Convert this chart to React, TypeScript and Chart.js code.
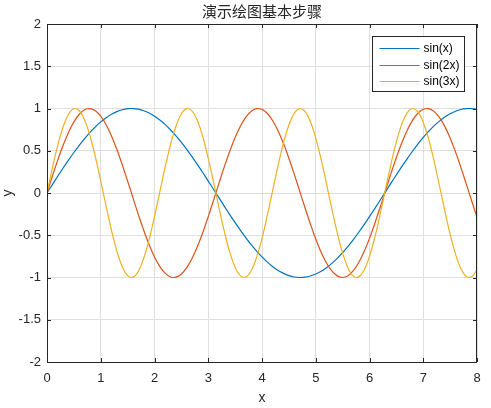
import React, { useEffect, useRef } from "react";
import { Chart, registerables } from "chart.js";

Chart.register(...registerables);

const titleText = "演示绘图基本步骤";
const xAxisTitle = "x";
const yAxisTitle = "y";

const xValues = [
  0, 0.1, 0.2, 0.3, 0.4, 0.5, 0.6, 0.7, 0.8, 0.9,
  1.0, 1.1, 1.2, 1.3, 1.4, 1.5, 1.6, 1.7, 1.8, 1.9,
  2.0, 2.1, 2.2, 2.3, 2.4, 2.5, 2.6, 2.7, 2.8, 2.9,
  3.0, 3.1, 3.2, 3.3, 3.4, 3.5, 3.6, 3.7, 3.8, 3.9,
  4.0, 4.1, 4.2, 4.3, 4.4, 4.5, 4.6, 4.7, 4.8, 4.9,
  5.0, 5.1, 5.2, 5.3, 5.4, 5.5, 5.6, 5.7, 5.8, 5.9,
  6.0, 6.1, 6.2, 6.3, 6.4, 6.5, 6.6, 6.7, 6.8, 6.9,
  7.0, 7.1, 7.2, 7.3, 7.4, 7.5, 7.6, 7.7, 7.8, 7.9,
  8.0,
];

const sinX = [
  0, 0.0998, 0.1987, 0.2955, 0.3894, 0.4794, 0.5646, 0.6442, 0.7174, 0.7833,
  0.8415, 0.8912, 0.932, 0.9636, 0.9854, 0.9975, 0.9996, 0.9917, 0.9738, 0.9463,
  0.9093, 0.8632, 0.8085, 0.7457, 0.6755, 0.5985, 0.5155, 0.4274, 0.335, 0.2392,
  0.1411, 0.0416, -0.0584, -0.1577, -0.2555, -0.3508, -0.4425, -0.5298, -0.6119, -0.6878,
  -0.7568, -0.8183, -0.8716, -0.9162, -0.9516, -0.9775, -0.9937, -0.9999, -0.9962, -0.9825,
  -0.9589, -0.9258, -0.8835, -0.8323, -0.7728, -0.7055, -0.6313, -0.5507, -0.4646, -0.3739,
  -0.2794, -0.1822, -0.0831, 0.0168, 0.1165, 0.2151, 0.3115, 0.4048, 0.4941, 0.5784,
  0.657, 0.729, 0.7937, 0.8504, 0.8987, 0.938, 0.9679, 0.9882, 0.9985, 0.9989,
  0.9894,
];

const sin2X = [
  0, 0.1987, 0.3894, 0.5646, 0.7174, 0.8415, 0.932, 0.9854, 0.9996, 0.9738,
  0.9093, 0.8085, 0.6755, 0.5155, 0.335, 0.1411, -0.0584, -0.2555, -0.4425, -0.6119,
  -0.7568, -0.8716, -0.9516, -0.9937, -0.9962, -0.9589, -0.8835, -0.7728, -0.6313, -0.4646,
  -0.2794, -0.0831, 0.1165, 0.3115, 0.4941, 0.657, 0.7937, 0.8987, 0.9679, 0.9985,
  0.9894, 0.9407, 0.8546, 0.7344, 0.5849, 0.4121, 0.2229, 0.0248, -0.1743, -0.3665,
  -0.544, -0.7, -0.8278, -0.9228, -0.9809, -1.0, -0.9792, -0.9193, -0.8228, -0.6935,
  -0.5366, -0.3582, -0.1656, 0.0336, 0.2315, 0.4202, 0.5921, 0.7404, 0.8592, 0.9437,
  0.9906, 0.998, 0.9657, 0.8948, 0.7883, 0.6503, 0.4864, 0.3031, 0.1078, -0.0919,
  -0.2879,
];

const sin3X = [
  0, 0.2955, 0.5646, 0.7833, 0.932, 0.9975, 0.9738, 0.8632, 0.6755, 0.4274,
  0.1411, -0.1577, -0.4425, -0.6878, -0.8716, -0.9775, -0.9962, -0.9258, -0.7728, -0.5507,
  -0.2794, 0.0168, 0.3115, 0.5784, 0.7937, 0.938, 0.9985, 0.9699, 0.8546, 0.663,
  0.4121, 0.1245, -0.1743, -0.4575, -0.7, -0.8797, -0.9809, -0.9946, -0.9193, -0.762,
  -0.5366, -0.2632, 0.0336, 0.3275, 0.5921, 0.8038, 0.9437, 0.9993, 0.9657, 0.8457,
  0.6503, 0.3967, 0.1078, -0.1909, -0.4724, -0.7118, -0.8876, -0.9841, -0.9927, -0.9126,
  -0.751, -0.5223, -0.247, 0.0504, 0.3433, 0.6055, 0.8137, 0.9491, 0.9998, 0.9612,
  0.8367, 0.6374, 0.3813, 0.091, -0.2073, -0.4872, -0.7235, -0.8952, -0.9869, -0.9905,
  -0.9056,
];

const seriesLabels = ["sin(x)", "sin(2x)", "sin(3x)"];
const seriesColors = ["#0072BD", "#D95319", "#EDB120"];
const seriesValues = [sinX, sin2X, sin3X];

const xTicks = [0, 1, 2, 3, 4, 5, 6, 7, 8];
const yTicks = [-2, -1.5, -1, -0.5, 0, 0.5, 1, 1.5, 2];
const xTickLabels = ["0", "1", "2", "3", "4", "5", "6", "7", "8"];
const yTickLabels = ["-2", "-1.5", "-1", "-0.5", "0", "0.5", "1", "1.5", "2"];

const AXIS_COLOR = "#262626";
const GRID_COLOR = "#dfdfdf";
const FONT = "'Liberation Sans', Arial, sans-serif";

export default function App() {
  const ref = useRef<HTMLCanvasElement>(null);

  useEffect(() => {
    document.body.style.margin = "0";
    const canvas = ref.current;
    if (!canvas) return;

    const decor = {
      id: "matlabDecor",
      afterDatasetsDraw(chart: any) {
        const { ctx, chartArea: a, scales } = chart;
        ctx.save();
        ctx.strokeStyle = AXIS_COLOR;
        ctx.lineWidth = 1;
        ctx.beginPath();
        for (const v of xTicks) {
          const px = Math.round(scales.x.getPixelForValue(v)) + 0.5;
          ctx.moveTo(px, a.bottom);
          ctx.lineTo(px, a.bottom - 4);
          ctx.moveTo(px, a.top);
          ctx.lineTo(px, a.top + 4);
        }
        for (const v of yTicks) {
          const py = Math.round(scales.y.getPixelForValue(v)) + 0.5;
          ctx.moveTo(a.left, py);
          ctx.lineTo(a.left + 4, py);
          ctx.moveTo(a.right, py);
          ctx.lineTo(a.right - 4, py);
        }
        ctx.stroke();
        ctx.strokeRect(
          Math.round(a.left) + 0.5,
          Math.round(a.top) + 0.5,
          Math.round(a.right) - Math.round(a.left) - 1,
          Math.round(a.bottom) - Math.round(a.top)
        );

        // title, centred over the plot area
        ctx.fillStyle = AXIS_COLOR;
        ctx.font = "normal 15px 'Noto Sans CJK SC', sans-serif";
        ctx.textAlign = "center";
        ctx.textBaseline = "middle";
        ctx.fillText(titleText, (a.left + a.right) / 2, 11);

        // legend
        const lw = 92;
        const lh = 55;
        const lx = Math.round(a.right - 13 - lw) + 0.5;
        const ly = Math.round(a.top + 12) + 0.5;
        ctx.fillStyle = "#ffffff";
        ctx.fillRect(lx, ly, lw, lh);
        ctx.strokeStyle = AXIS_COLOR;
        ctx.lineWidth = 1;
        ctx.strokeRect(lx, ly, lw, lh);
        ctx.font = "normal 12px 'Liberation Sans', Arial, sans-serif";
        ctx.textAlign = "left";
        ctx.textBaseline = "middle";
        seriesLabels.forEach((label, i) => {
          const ry = Math.round(ly + 11.5 + i * 16.5) + 0.5;
          ctx.strokeStyle = seriesColors[i];
          ctx.lineWidth = 1.2;
          ctx.beginPath();
          ctx.moveTo(lx + 7, ry);
          ctx.lineTo(lx + 47, ry);
          ctx.stroke();
          ctx.fillStyle = "#000000";
          ctx.fillText(label, lx + 51, ry + 0.5);
        });
        ctx.restore();
      },
    };

    const chart = new Chart(canvas, {
      type: "line",
      data: {
        datasets: seriesLabels.map((label, i) => ({
          label,
          data: xValues.map((x, j) => ({ x, y: seriesValues[i][j] })),
          borderColor: seriesColors[i],
          backgroundColor: seriesColors[i],
          borderWidth: 1.2,
          pointRadius: 0,
          tension: 0.4,
          fill: false,
          order: 3 - i,
        })),
      },
      options: {
        responsive: false,
        animation: false,
        layout: { padding: { left: 0, right: 14, top: 24, bottom: 0 } },
        plugins: {
          legend: { display: false },
          title: { display: false },
          tooltip: { enabled: false },
        },
        scales: {
          x: {
            type: "linear",
            min: 0,
            max: 8,
            afterBuildTicks: (s: any) => {
              s.ticks = xTicks.map((v) => ({ value: v }));
            },
            afterFit: (s: any) => {
              s.height = 46;
            },
            ticks: {
              autoSkip: false,
              maxRotation: 0,
              padding: 9,
              color: AXIS_COLOR,
              font: { family: FONT, size: 13 },
              callback: (v: any) => xTickLabels[xTicks.indexOf(Number(v))] ?? String(v),
            },
            grid: { color: GRID_COLOR, drawTicks: false, lineWidth: 1 },
            border: { display: false },
            title: {
              display: true,
              text: xAxisTitle,
              color: AXIS_COLOR,
              font: { family: FONT, size: 14 },
              padding: { top: 0, bottom: 1 },
            },
          },
          y: {
            type: "linear",
            min: -2,
            max: 2,
            afterBuildTicks: (s: any) => {
              s.ticks = yTicks.map((v) => ({ value: v }));
            },
            afterFit: (s: any) => {
              s.width = 47;
            },
            ticks: {
              autoSkip: false,
              padding: 6,
              color: AXIS_COLOR,
              font: { family: FONT, size: 13 },
              callback: (v: any) => yTickLabels[yTicks.indexOf(Number(v))] ?? String(v),
            },
            grid: { color: GRID_COLOR, drawTicks: false, lineWidth: 1 },
            border: { display: false },
            title: {
              display: true,
              text: yAxisTitle,
              color: AXIS_COLOR,
              font: { family: FONT, size: 14 },
              padding: { top: 0, bottom: 0 },
            },
          },
        },
      },
      plugins: [decor],
    });

    return () => chart.destroy();
  }, []);

  return (
    <div style={{ width: 491, height: 408 }}>
      <canvas ref={ref} width={491} height={408} style={{ display: "block" }} />
    </div>
  );
}
